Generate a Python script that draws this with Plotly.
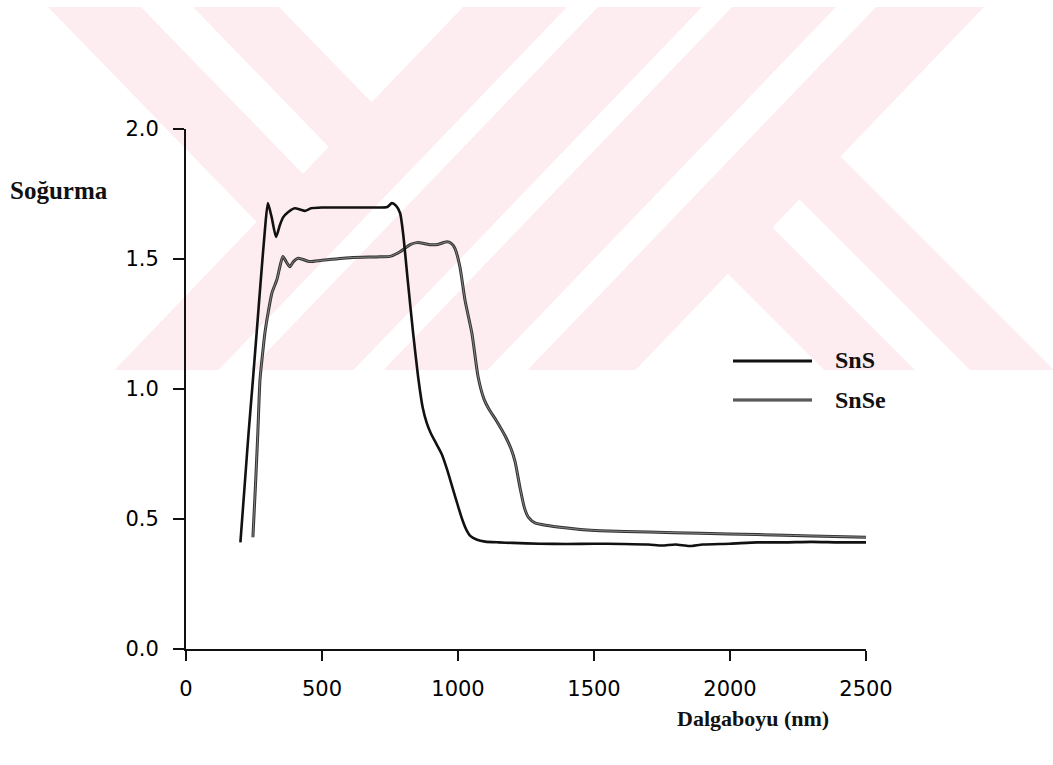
import plotly.graph_objects as go

# ---------------- data ----------------
sns_x = [200, 215, 230, 246, 260, 275, 290, 301, 315, 331, 345, 357, 375, 400, 420, 437, 460, 500,
         600, 700, 740, 757, 772, 787, 798, 816, 835, 853, 870, 885, 900, 920, 940, 960, 980, 1000,
         1015, 1030, 1045, 1070, 1100, 1150, 1200, 1300, 1400, 1500, 1600, 1700, 1750, 1800, 1850,
         1900, 2000, 2100, 2200, 2300, 2400, 2500]
sns_y = [0.41, 0.62, 0.83, 1.035, 1.22, 1.42, 1.61, 1.715, 1.66, 1.585, 1.63, 1.66, 1.68, 1.695, 1.69,
         1.685, 1.695, 1.698, 1.698, 1.698, 1.70, 1.715, 1.705, 1.677, 1.60, 1.41, 1.215, 1.05, 0.93,
         0.87, 0.83, 0.79, 0.75, 0.69, 0.62, 0.55, 0.50, 0.46, 0.435, 0.42, 0.413, 0.41, 0.408, 0.405,
         0.404, 0.405, 0.404, 0.402, 0.398, 0.402, 0.396, 0.402, 0.405, 0.41, 0.41, 0.412, 0.41, 0.41]

snse_x = [246, 255, 264, 272, 281, 290, 303, 316, 334, 345, 356, 368, 382, 395, 412, 456, 500, 603,
          700, 750, 787, 824, 849, 875, 897, 926, 959, 975, 989, 1007, 1026, 1051, 1074, 1096, 1115,
          1140, 1173, 1195, 1210, 1228, 1245, 1260, 1283, 1330, 1375, 1450, 1522, 1700, 1890, 2100,
          2300, 2500]
snse_y = [0.43, 0.62, 0.83, 1.035, 1.13, 1.215, 1.30, 1.37, 1.42, 1.47, 1.51, 1.49, 1.47, 1.49, 1.503,
          1.49, 1.495, 1.505, 1.508, 1.51, 1.528, 1.555, 1.563, 1.56, 1.555, 1.556, 1.566, 1.56, 1.54,
          1.47, 1.34, 1.215, 1.046, 0.96, 0.92, 0.88, 0.82, 0.77, 0.72, 0.62, 0.54, 0.505, 0.485,
          0.475, 0.468, 0.46, 0.455, 0.45, 0.445, 0.44, 0.435, 0.43]

x_tickvals = [0, 500, 1000, 1500, 2000, 2500]
x_ticktext = ["0", "500", "1000", "1500", "2000", "2500"]
y_tickvals = [0.0, 0.5, 1.0, 1.5, 2.0]
y_ticktext = ["0.0", "0.5", "1.0", "1.5", "2.0"]

series_names = ["SnS", "SnSe"]
x_title = "Dalgaboyu (nm)"
y_title = "Soğurma"

# ---------------- layout geometry ----------------
W, H = 1053, 765
ML, MR, MT, MB = 186, 187, 129, 116
PW = W - ML - MR
PH = H - MT - MB


def px(x):
    return (x - ML) / PW


def py(y):
    return (H - MB - y) / PH


def path(pts):
    return "M " + " L ".join(f"{px(a):.5f},{py(b):.5f}" for a, b in pts) + " Z"


# ---------------- background watermark (decoration) ----------------
WM = "#fdedf0"
Y0, Y1 = 7, 370
S = 0.96
wm_polys = []
for a, b in [(463, 567), (598, 702), (732, 836), (876, 984)]:
    sh = S * (Y1 - Y0)
    wm_polys.append([(a, Y0), (b, Y0), (b - sh, Y1), (a - sh, Y1)])
wm_polys.append([(48, Y0), (141, Y0), (310.6, 181.8), (264.4, 230)])
wm_polys.append([(193, Y0), (279, Y0), (379.3, 110.3), (336.5, 154.9)])
wm_polys.append([(830.5, 146.5), (1053, 369), (1053, 370), (970, 370), (789.3, 189.3)])
wm_polys.append([(762.4, 217.4), (915, 370), (824, 370), (717.8, 263.8)])

shapes = []
for p in wm_polys:
    shapes.append(dict(type="path", xref="paper", yref="paper", path=path(p),
                       fillcolor=WM, line=dict(width=0), layer="below"))

# legend samples
shapes.append(dict(type="line", xref="paper", yref="paper", x0=px(733), x1=px(812), y0=py(361), y1=py(361),
                   line=dict(color="#111111", width=3)))
shapes.append(dict(type="line", xref="paper", yref="paper", x0=px(733), x1=px(812), y0=py(400), y1=py(400),
                   line=dict(color="#333333", width=3)))
shapes.append(dict(type="line", xref="paper", yref="paper", x0=px(733), x1=px(812), y0=py(400), y1=py(400),
                   line=dict(color="#9a9a9a", width=0.8)))

# ---------------- figure ----------------
fig = go.Figure()
fig.add_trace(go.Scatter(x=snse_x, y=snse_y, mode="lines", name=series_names[1],
                         line=dict(color="#333333", width=3, shape="spline", smoothing=0.6)))
fig.add_trace(go.Scatter(x=snse_x, y=snse_y, mode="lines", name=series_names[1] + " ",
                         line=dict(color="#9a9a9a", width=0.8, shape="spline", smoothing=0.6)))
fig.add_trace(go.Scatter(x=sns_x, y=sns_y, mode="lines", name=series_names[0],
                         line=dict(color="#111111", width=2.6, shape="spline", smoothing=0.6)))

serif = "Liberation Serif, Times New Roman, serif"
annotations = [
    dict(text=f"<b>{y_title}</b>", xref="paper", yref="paper", x=px(8), y=py(190),
         xanchor="left", yanchor="middle", showarrow=False, font=dict(family=serif, size=25, color="#111")),
    dict(text=f"<b>{x_title}</b>", xref="paper", yref="paper", x=px(753), y=py(718),
         xanchor="center", yanchor="middle", showarrow=False, font=dict(family=serif, size=22, color="#111")),
    dict(text=f"<b>{series_names[0]}</b>", xref="paper", yref="paper", x=px(833), y=py(360),
         xanchor="left", yanchor="middle", showarrow=False, font=dict(family=serif, size=24, color="#111")),
    dict(text=f"<b>{series_names[1]}</b>", xref="paper", yref="paper", x=px(833), y=py(400),
         xanchor="left", yanchor="middle", showarrow=False, font=dict(family=serif, size=24, color="#111")),
]

tickfont = dict(family="DejaVu Sans, Arial, sans-serif", size=21, color="#000")
fig.update_layout(
    width=W, height=H,
    margin=dict(l=ML, r=MR, t=MT, b=MB, pad=0),
    paper_bgcolor="white", plot_bgcolor="rgba(0,0,0,0)",
    showlegend=False,
    shapes=shapes, annotations=annotations,
    xaxis=dict(range=[0, 2500], tickvals=x_tickvals, ticktext=x_ticktext, showline=True,
               linecolor="#111", linewidth=2, ticks="outside", ticklen=10, tickwidth=2, tickcolor="#111",
               showgrid=False, zeroline=False, tickfont=tickfont, ticklabelstandoff=10),
    yaxis=dict(range=[0, 2], tickvals=y_tickvals, ticktext=y_ticktext, showline=True,
               linecolor="#111", linewidth=2, ticks="outside", ticklen=11, tickwidth=2, tickcolor="#111",
               showgrid=False, zeroline=False, tickfont=tickfont, ticklabelstandoff=10),
)

fig.write_html("out.html")
